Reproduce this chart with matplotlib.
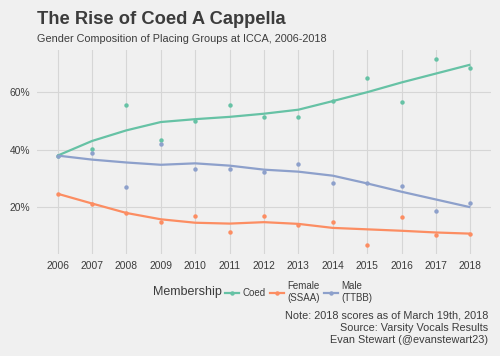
import matplotlib
matplotlib.use("Agg")
import matplotlib.pyplot as plt
from matplotlib.lines import Line2D

plt.rcParams['font.family'] = ['Liberation Sans', 'DejaVu Sans']

years = list(range(2006, 2019))
coed = [38.0, 40.2, 55.5, 43.4, 50.2, 55.8, 51.4, 51.6, 57.1, 65.2, 56.7, 71.5, 68.4]
female = [24.7, 21.3, 18.0, 15.0, 16.9, 11.3, 16.9, 13.9, 14.8, 6.9, 16.5, 10.2, 10.6]
male = [38.0, 39.0, 27.0, 42.0, 33.5, 33.5, 32.4, 35.0, 28.6, 28.4, 27.3, 18.8, 21.6]

coed_smooth = [38.0, 43.1, 46.8, 49.7, 50.7, 51.5, 52.6, 54.0, 57.0, 60.1, 63.5, 66.6, 69.7]
female_smooth = [24.7, 21.3, 18.0, 15.8, 14.6, 14.3, 14.8, 14.2, 12.8, 12.3, 11.8, 11.2, 10.8]
male_smooth = [38.0, 36.6, 35.6, 34.8, 35.3, 34.5, 33.1, 32.4, 31.0, 28.3, 25.4, 22.7, 20.0]

series = ["Coed", "Female\n(SSAA)", "Male\n(TTBB)"]
colors = ["#66C2A5", "#FC8D62", "#8DA0CB"]
yticks = [20, 40, 60]
ytick_labels = ["20%", "40%", "60%"]

bg = "#F0F0F0"
fig = plt.figure(figsize=(5.0, 3.56), dpi=100, facecolor=bg)
ax = fig.add_axes([0.074, 0.2865, 0.908, 0.573])
ax.set_facecolor(bg)

for pts, sm, c in zip([coed, female, male], [coed_smooth, female_smooth, male_smooth], colors):
    ax.plot(years, pts, 'o', color=c, markersize=3.2, markeredgewidth=0, zorder=3)
    ax.plot(years, sm, '-', color=c, lw=1.6, zorder=4, solid_capstyle='butt')

ax.set_xlim(2005.4, 2018.6)
ax.set_ylim(3.7, 74.8)
ax.set_xticks(years)
ax.set_xticklabels([str(y) for y in years])
ax.set_yticks(yticks)
ax.set_yticklabels(ytick_labels)
ax.grid(True, color="#D6D6D6", lw=0.8)
ax.set_axisbelow(True)
for s in ax.spines.values():
    s.set_visible(False)
ax.tick_params(length=0, labelsize=7.4, labelcolor="#3C3C3C", pad=5)

fig.text(0.074, 0.946, "The Rise of Coed A Cappella", fontsize=13.2, fontweight='bold',
         color="#3C3C3C", ha='left', va='center')
fig.text(0.074, 0.89, "Gender Composition of Placing Groups at ICCA, 2006-2018", fontsize=7.8,
         color="#3C3C3C", ha='left', va='center')

handles = [Line2D([0], [0], color=c, lw=1.6, marker='o', markersize=3.2, markeredgewidth=0)
           for c in colors]
fig.text(0.306, 0.18, "Membership", fontsize=9, color="#3C3C3C", ha='left', va='center')
leg = fig.legend(handles, series, loc='center left', bbox_to_anchor=(0.45, 0.18), ncol=3,
                 frameon=False, fontsize=7, handlelength=1.4, handletextpad=0.35,
                 columnspacing=0.5, borderpad=0, borderaxespad=0, labelcolor="#3C3C3C")

fig.text(0.977, 0.08, "Note: 2018 scores as of March 19th, 2018\nSource: Varsity Vocals Results\nEvan Stewart (@evanstewart23)",
         fontsize=7.8, color="#3C3C3C", ha='right', va='center', linespacing=1.3, multialignment='right')

fig.savefig("out.png", dpi=100, facecolor=bg)
